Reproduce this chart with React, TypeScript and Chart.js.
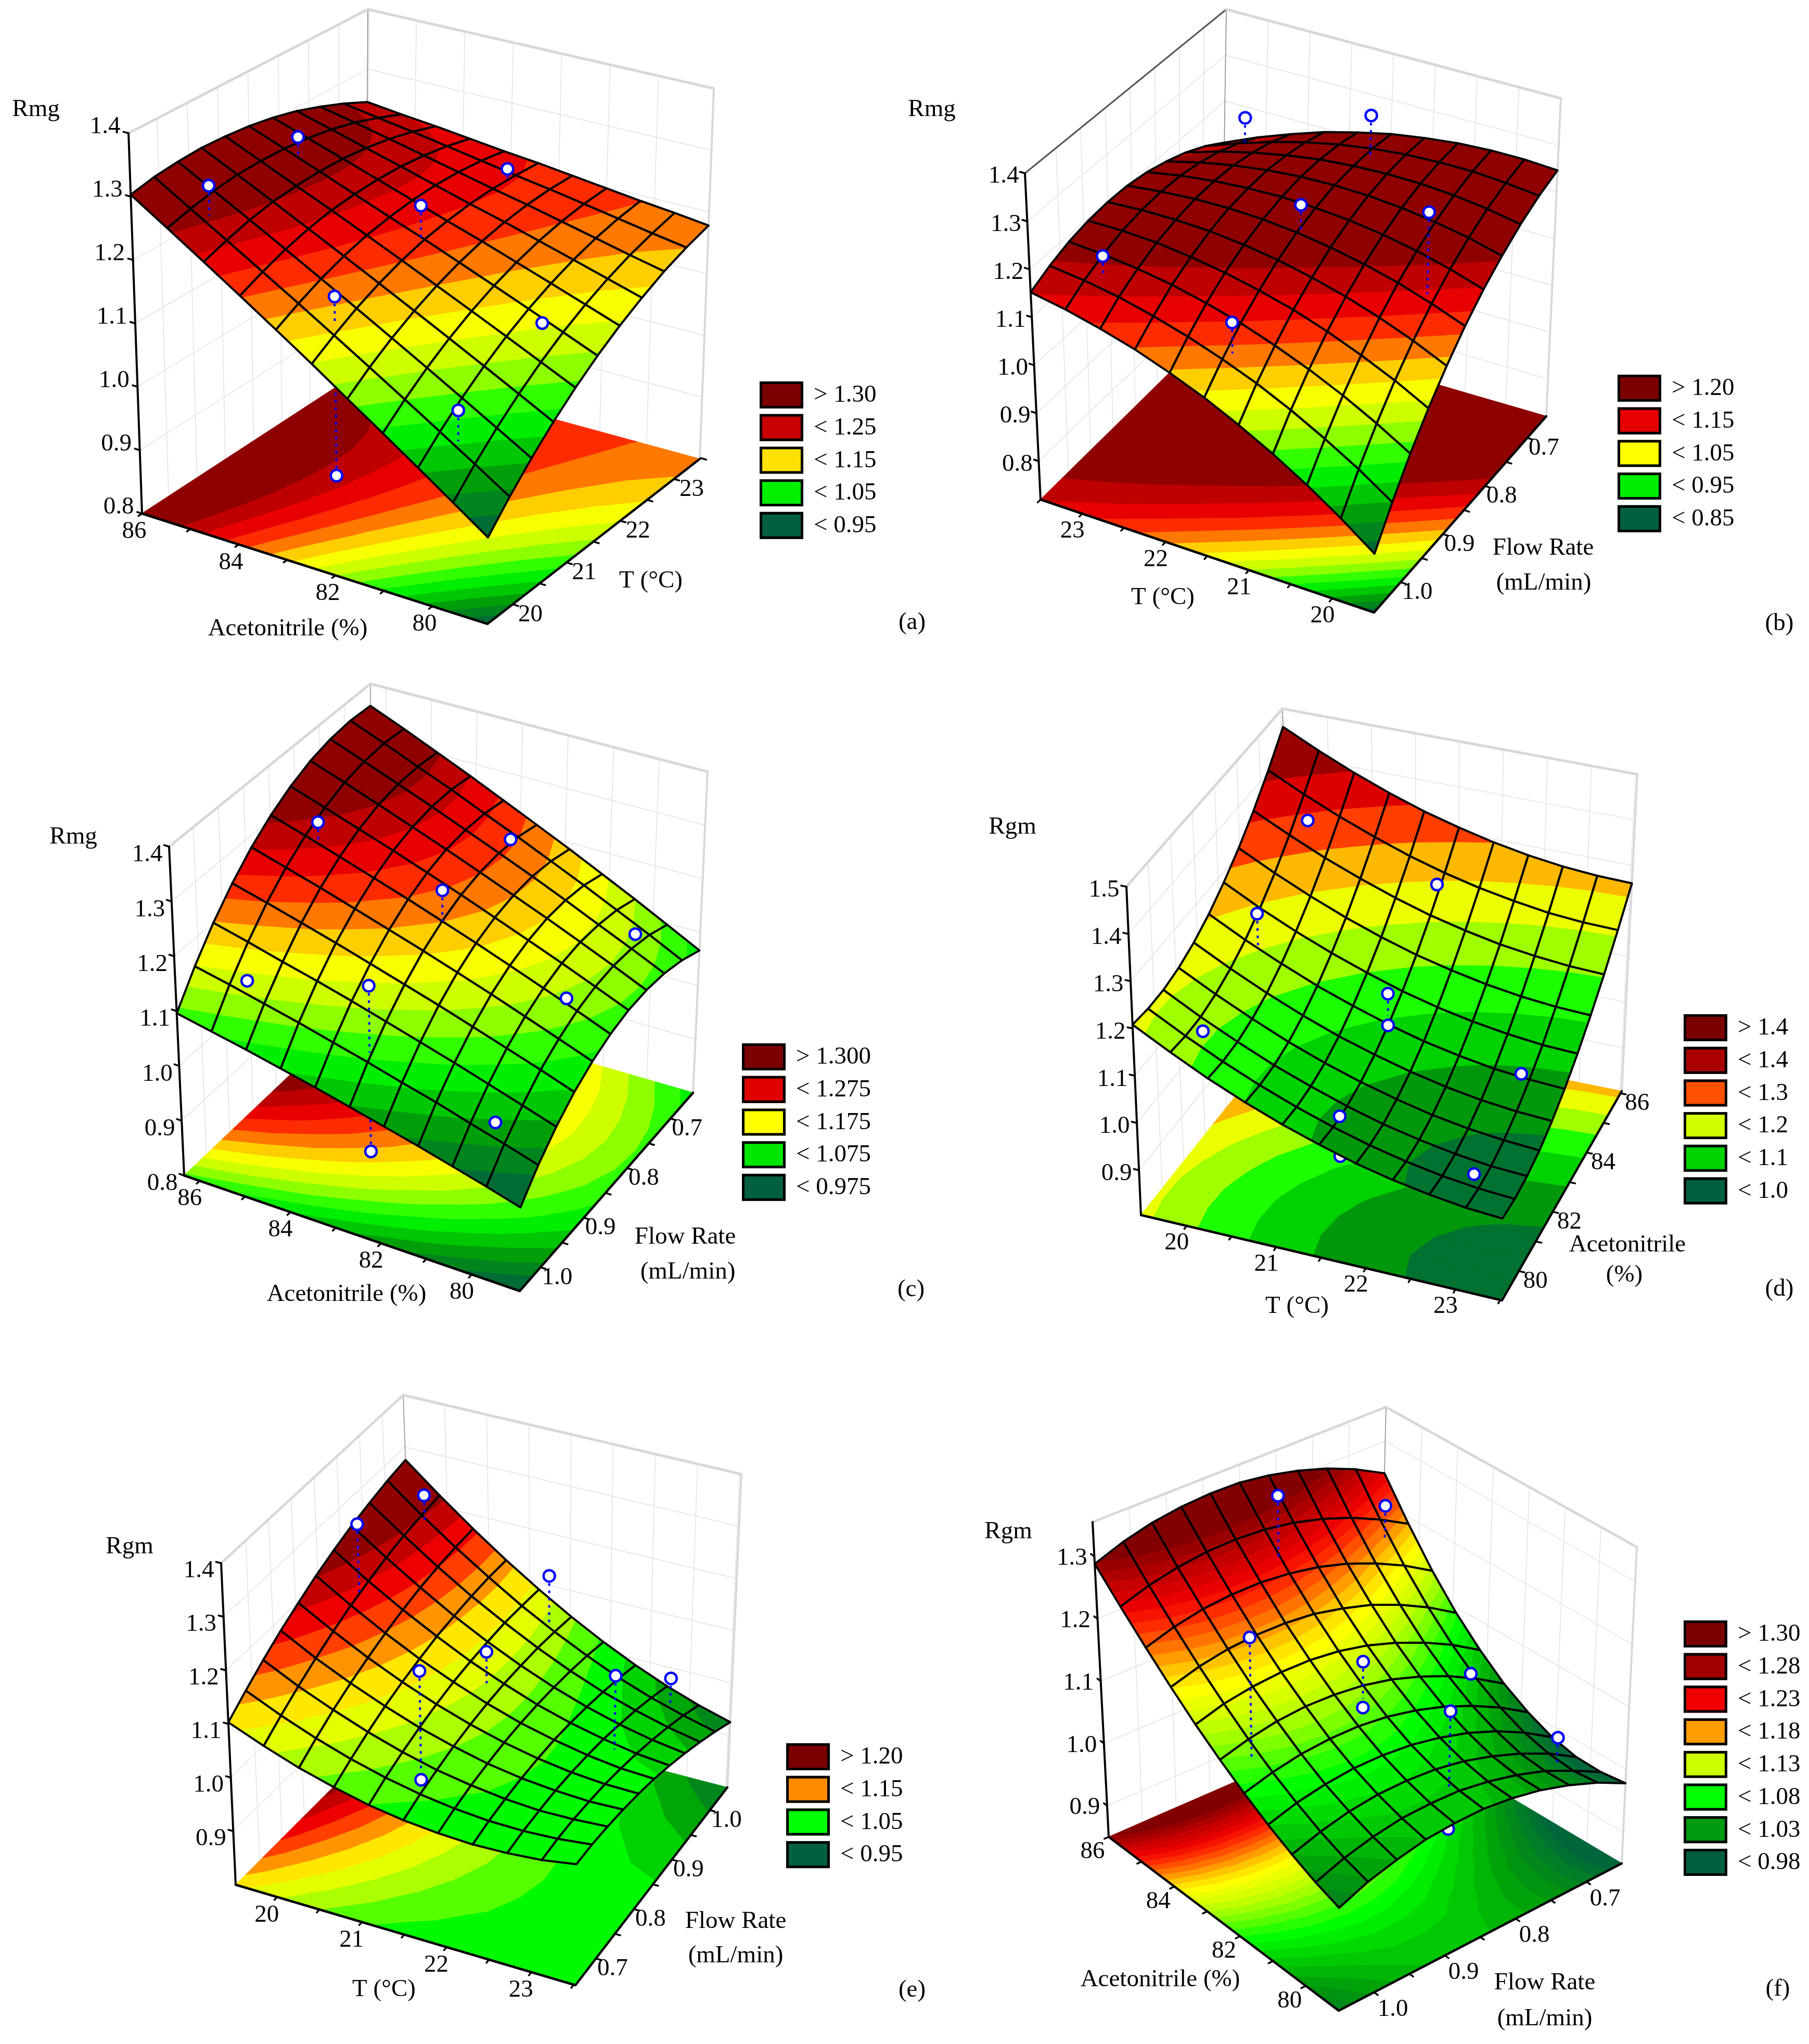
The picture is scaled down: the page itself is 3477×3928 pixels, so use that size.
import React, { useEffect, useRef } from "react";
import { Chart, registerables } from "chart.js";

Chart.register(...registerables);

// ---------- values ----------
// Response grids: row = first floor axis (left corner to near corner), column = second axis (near corner to right corner)
const aZ = [
  [1.303,1.311,1.315,1.317,1.315,1.311,1.304,1.294,1.280,1.264,1.245],
  [1.266,1.276,1.284,1.289,1.290,1.289,1.285,1.278,1.268,1.254,1.238],
  [1.229,1.242,1.253,1.261,1.265,1.267,1.266,1.262,1.255,1.245,1.232],
  [1.192,1.208,1.222,1.233,1.241,1.245,1.247,1.246,1.242,1.235,1.225],
  [1.155,1.174,1.191,1.205,1.216,1.223,1.228,1.230,1.229,1.225,1.218],
  [1.118,1.140,1.160,1.177,1.191,1.202,1.209,1.214,1.216,1.215,1.212],
  [1.080,1.106,1.129,1.149,1.166,1.180,1.191,1.199,1.204,1.206,1.205],
  [1.043,1.072,1.098,1.121,1.141,1.158,1.172,1.183,1.191,1.196,1.198],
  [1.006,1.038,1.067,1.093,1.116,1.136,1.153,1.167,1.178,1.186,1.191],
  [0.969,1.004,1.036,1.065,1.091,1.114,1.134,1.151,1.165,1.176,1.185],
  [0.932,0.970,1.005,1.037,1.066,1.092,1.115,1.135,1.153,1.167,1.178],
];
const bZ = [
  [1.152,1.172,1.187,1.196,1.200,1.199,1.192,1.179,1.162,1.139,1.110],
  [1.138,1.163,1.182,1.196,1.204,1.207,1.205,1.197,1.184,1.165,1.141],
  [1.120,1.150,1.173,1.192,1.204,1.212,1.214,1.211,1.202,1.188,1.168],
  [1.099,1.132,1.161,1.183,1.201,1.213,1.219,1.221,1.216,1.207,1.192],
  [1.073,1.111,1.144,1.171,1.193,1.210,1.221,1.227,1.227,1.222,1.211],
  [1.044,1.086,1.124,1.155,1.182,1.203,1.218,1.229,1.233,1.233,1.227],
  [1.010,1.058,1.099,1.136,1.166,1.192,1.212,1.227,1.236,1.240,1.238],
  [0.973,1.025,1.071,1.112,1.147,1.177,1.202,1.221,1.235,1.243,1.246],
  [0.932,0.988,1.039,1.084,1.124,1.159,1.188,1.211,1.230,1.243,1.250],
  [0.887,0.948,1.003,1.053,1.097,1.136,1.170,1.198,1.221,1.238,1.250],
  [0.838,0.903,0.963,1.017,1.066,1.110,1.148,1.180,1.208,1.230,1.246],
];
const cZ = [
  [1.096,1.151,1.200,1.242,1.278,1.307,1.330,1.347,1.357,1.361,1.358],
  [1.083,1.137,1.184,1.225,1.259,1.287,1.308,1.324,1.332,1.335,1.331],
  [1.070,1.122,1.167,1.207,1.240,1.266,1.286,1.300,1.307,1.308,1.303],
  [1.056,1.107,1.151,1.189,1.220,1.245,1.264,1.276,1.282,1.282,1.275],
  [1.042,1.091,1.134,1.170,1.200,1.224,1.241,1.252,1.256,1.254,1.246],
  [1.027,1.075,1.116,1.151,1.180,1.202,1.218,1.227,1.230,1.227,1.217],
  [1.012,1.058,1.098,1.132,1.159,1.180,1.194,1.202,1.204,1.199,1.188],
  [0.997,1.042,1.080,1.112,1.138,1.157,1.170,1.177,1.177,1.171,1.158],
  [0.981,1.024,1.061,1.092,1.116,1.134,1.146,1.151,1.149,1.142,1.128],
  [0.965,1.007,1.042,1.072,1.094,1.111,1.121,1.125,1.122,1.113,1.097],
  [0.948,0.989,1.023,1.051,1.072,1.087,1.096,1.098,1.094,1.083,1.066],
];
const dZ = [
  [1.208,1.203,1.204,1.212,1.227,1.249,1.278,1.313,1.355,1.404,1.460],
  [1.167,1.162,1.163,1.172,1.187,1.209,1.238,1.274,1.317,1.366,1.422],
  [1.129,1.125,1.127,1.136,1.151,1.174,1.203,1.239,1.282,1.332,1.388],
  [1.096,1.092,1.094,1.103,1.119,1.142,1.172,1.208,1.252,1.302,1.358],
  [1.067,1.063,1.066,1.075,1.091,1.115,1.145,1.181,1.225,1.275,1.332],
  [1.042,1.038,1.041,1.051,1.068,1.091,1.121,1.158,1.202,1.253,1.311],
  [1.020,1.017,1.020,1.031,1.048,1.071,1.102,1.140,1.184,1.235,1.293],
  [1.003,1.000,1.004,1.014,1.032,1.056,1.087,1.125,1.169,1.221,1.279],
  [0.990,0.987,0.991,1.002,1.020,1.044,1.076,1.114,1.159,1.210,1.269],
  [0.980,0.978,0.982,0.994,1.012,1.037,1.068,1.107,1.152,1.204,1.263],
  [0.975,0.973,0.978,0.989,1.008,1.033,1.065,1.104,1.149,1.202,1.261],
];
const eZ = [
  [1.103,1.130,1.155,1.178,1.198,1.217,1.233,1.247,1.258,1.268,1.275],
  [1.077,1.101,1.123,1.143,1.161,1.177,1.190,1.202,1.211,1.217,1.222],
  [1.054,1.076,1.096,1.113,1.128,1.141,1.152,1.161,1.167,1.171,1.173],
  [1.036,1.055,1.072,1.087,1.099,1.109,1.118,1.123,1.127,1.129,1.128],
  [1.021,1.038,1.052,1.064,1.074,1.082,1.087,1.090,1.092,1.090,1.087],
  [1.011,1.025,1.036,1.046,1.053,1.058,1.061,1.061,1.060,1.056,1.050],
  [1.005,1.016,1.025,1.031,1.036,1.038,1.038,1.036,1.032,1.026,1.017],
  [1.002,1.011,1.017,1.021,1.023,1.023,1.020,1.015,1.008,0.999,0.988],
  [1.004,1.010,1.013,1.015,1.014,1.011,1.006,0.998,0.989,0.977,0.963],
  [1.009,1.013,1.014,1.012,1.009,1.003,0.995,0.985,0.973,0.959,0.942],
  [1.019,1.020,1.018,1.014,1.008,1.000,0.989,0.976,0.961,0.944,0.925],
];
const fZ = [
  [1.288,1.305,1.317,1.324,1.327,1.326,1.319,1.308,1.293,1.273,1.248],
  [1.246,1.261,1.271,1.277,1.278,1.275,1.267,1.254,1.237,1.215,1.189],
  [1.207,1.221,1.230,1.234,1.234,1.229,1.220,1.206,1.187,1.164,1.136],
  [1.171,1.184,1.192,1.195,1.194,1.189,1.178,1.164,1.144,1.120,1.091],
  [1.138,1.151,1.158,1.161,1.160,1.154,1.143,1.127,1.107,1.083,1.054],
  [1.109,1.121,1.129,1.132,1.130,1.124,1.113,1.097,1.077,1.052,1.023],
  [1.083,1.095,1.103,1.106,1.105,1.099,1.088,1.073,1.053,1.029,1.000],
  [1.060,1.073,1.081,1.085,1.084,1.079,1.069,1.055,1.036,1.012,0.983],
  [1.040,1.054,1.064,1.069,1.069,1.065,1.056,1.042,1.024,1.002,0.974],
  [1.023,1.039,1.050,1.057,1.058,1.056,1.048,1.036,1.020,0.998,0.973],
  [1.010,1.028,1.040,1.049,1.052,1.052,1.046,1.036,1.021,1.002,0.978],
];

// Experimental points: first axis, second axis, response, foot of the dotted line (null = none), hidden under the surface
const aPtX = [85, 85, 82.5, 82.5, 82.5, 80, 80, 82.5];
const aPtY = [20, 21.5, 21.5, 23, 20, 21.5, 20, 20];
const aPtZ = [1.315, 1.314, 1.255, 1.229, 1.195, 1.12, 1.073, 0.915];
const aPtEnd = [1.267, 1.281, 1.202, 1.214, 1.151, null, 1.025, 1.148];
const aPtUnder = [0, 0, 0, 0, 0, 0, 0, 1];

const bPtX = [23, 21.5, 21.5, 20, 23, 21.5];
const bPtY = [1.0, 1.0, 0.85, 0.85, 0.7, 0.7];
const bPtZ = [1.2, 1.142, 1.253, 1.313, 1.229, 1.308];
const bPtEnd = [1.159, 1.078, 1.201, 1.142, 1.17, 1.223];
const bPtUnder = [0, 0, 0, 0, 0, 0];

const cPtX = [85.3, 85.3, 82.8, 82.8, 82.8, 82.8, 79.8, 79.8, 79.8];
const cPtY = [1.0, 0.85, 0.688, 0.832, 0.988, 0.988, 0.708, 0.86, 1.016];
const cPtZ = [1.146, 1.321, 1.219, 1.242, 1.193, 0.893, 1.129, 1.141, 1.049];
const cPtEnd = [null, 1.285, null, 1.185, 1.072, 1.072, null, null, null];
const cPtUnder = [0, 0, 0, 0, 0, 1, 0, 0, 0];

const dPtX = [20, 20, 20, 21.5, 21.5, 21.5, 21.5, 21.5, 23, 23];
const dPtY = [80.07, 82.68, 85.08, 82.54, 82.54, 85, 80.07, 80.07, 80.05, 82.65];
const dPtZ = [1.157, 1.262, 1.329, 1.157, 1.089, 1.249, 1.04, 0.956, 0.983, 1.038];
const dPtEnd = [null, 1.194, null, 1.109, null, null, null, null, null, null];
const dPtUnder = [0, 0, 0, 0, 0, 0, 0, 1, 0, 0];

const ePtX = [20, 20, 21.5, 21.5, 21.5, 21.5, 23, 23];
const ePtY = [0.849, 0.996, 0.692, 0.692, 0.848, 0.996, 0.854, 0.996];
const ePtZ = [1.332, 1.267, 1.247, 1.046, 1.153, 1.171, 1.164, 1.034];
const ePtEnd = [1.197, 1.218, 1.062, null, 1.094, 1.076, 1.026, 0.984];
const ePtUnder = [0, 0, 0, 0, 0, 0, 0, 0];

const fPtX = [85, 85, 82.5, 82.5, 82.5, 82.5, 80, 80, 80];
const fPtY = [0.846, 0.698, 1.006, 0.85, 0.85, 0.698, 0.85, 0.85, 0.698];
const fPtZ = [1.338, 1.251, 1.28, 1.162, 1.089, 1.064, 1.171, 0.985, 1.045];
const fPtEnd = [1.239, 1.194, 1.085, 1.103, null, null, 1.045, 1.045, 1.005];
const fPtUnder = [0, 0, 0, 0, 0, 0, 0, 1, 0];

// Axis ticks
const acMinor = [86, 85, 84, 83, 82, 81, 80];
const acLabels = [86, 84, 82, 80];
const tMinor = [23.5, 23, 22.5, 22, 21.5, 21, 20.5, 20];
const tLabels = [20, 21, 22, 23];
const flowMinor = [1.0, 0.95, 0.9, 0.85, 0.8, 0.75, 0.7];
const flowLabels = [1.0, 0.9, 0.8, 0.7];
const zTicks14 = [0.8, 0.9, 1.0, 1.1, 1.2, 1.3, 1.4];
const zTicks15 = [0.9, 1.0, 1.1, 1.2, 1.3, 1.4, 1.5];
const zTicksE = [0.9, 1.0, 1.1, 1.2, 1.3, 1.4];
const zTicksF = [0.9, 1.0, 1.1, 1.2, 1.3];

// Legends
const aLegend = ["> 1.30", "< 1.25", "< 1.15", "< 1.05", "< 0.95"];
const bLegend = ["> 1.20", "< 1.15", "< 1.05", "< 0.95", "< 0.85"];
const cLegend = ["> 1.300", "< 1.275", "< 1.175", "< 1.075", "< 0.975"];
const dLegend = ["> 1.4", "< 1.4", "< 1.3", "< 1.2", "< 1.1", "< 1.0"];
const eLegend = ["> 1.20", "< 1.15", "< 1.05", "< 0.95"];
const fLegend = ["> 1.30", "< 1.28", "< 1.23", "< 1.18", "< 1.13", "< 1.08", "< 1.03", "< 0.98"];

// ---------- styles and layout ----------
const FONT = '"Liberation Serif", serif';
const KNOTS: [number, number, number, number][] = [
  [0, 0, 96, 64], [0.16, 0, 155, 10], [0.26, 0, 215, 0], [0.33, 0, 255, 0], [0.44, 150, 255, 0],
  [0.5, 205, 255, 0], [0.58, 255, 255, 0], [0.63, 255, 210, 0], [0.7, 255, 120, 0], [0.76, 255, 50, 0],
  [0.82, 240, 0, 0], [0.9, 190, 0, 0], [1, 120, 0, 0],
];
type XY = [number, number];
const panels: any[] = [
  {
    rect: [0, 0, 1790, 1290], z: aZ, zRange: [0.8, 1.4], zTicks: zTicks14,
    corners: { L: [273, 987], N: [937, 1199], R: [1345, 882], B: [703, 707], Lt: [247, 256], Nt: [941, 444], Rt: [1372, 170], Bt: [707, 18] },
    xr: [86, 78.86], yr: [19.53, 23.48], xMinor: acMinor, xLabels: acLabels, yMinor: tMinor, yLabels: tLabels, xFmt: 0, yFmt: 0,
    zOff: [-45, -12], uOff: [-15, 35], vOff: [34, 20], color: [0.93, 1.285, 15],
    pts: [aPtX, aPtY, aPtZ, aPtEnd, aPtUnder],
    legend: aLegend, legendColors: ["#7b0000", "#c80000", "#ffe000", "#00f000", "#006040"], legendAt: [1460, 733],
    texts: [["Rmg", 69, 211], ["Acetonitrile (%)", 553, 1209], ["T (°C)", 1251, 1117], ["(a)", 1753, 1197]],
  },
  {
    rect: [1700, 0, 1777, 1290], z: bZ, zRange: [0.72, 1.4], zTicks: zTicks14, topLeft: "#555555",
    corners: { L: [2000, 960], N: [2641, 1177], R: [2972, 800], B: [2348, 618], Lt: [1970, 333], Nt: [2646, 526], Rt: [3000, 189], Bt: [2357, 18] },
    xr: [23.5, 19.5], yr: [1.063, 0.655], xMinor: tMinor, xLabels: tLabels, yMinor: flowMinor, yLabels: flowLabels, xFmt: 0, yFmt: 1,
    zOff: [-41, 6], uOff: [-19, 34], vOff: [32, 20], color: [0.83, 1.2, 15],
    pts: [bPtX, bPtY, bPtZ, bPtEnd, bPtUnder],
    legend: bLegend, legendColors: ["#7b0000", "#e60000", "#ffff00", "#00ee00", "#006040"], legendAt: [3109, 720],
    texts: [["Rmg", 1791, 211], ["T (°C)", 2235, 1149], ["Flow Rate", 2966, 1054], ["(mL/min)", 2967, 1121], ["(b)", 3420, 1199]],
  },
  {
    rect: [0, 1290, 1790, 1300], z: cZ, zRange: [0.8, 1.4], zTicks: zTicks14,
    corners: { L: [354, 2259], N: [999, 2481], R: [1332, 2100], B: [711, 1920], Lt: [325, 1627], Nt: [1004, 1830], Rt: [1360, 1483], Bt: [712, 1314] },
    xr: [86.34, 78.94], yr: [1.048, 0.648], xMinor: acMinor, xLabels: acLabels, yMinor: flowMinor, yLabels: flowLabels, xFmt: 0, yFmt: 1,
    zOff: [-42, 16], uOff: [-19, 34], vOff: [32, 20], color: [0.955, 1.325, 15],
    pts: [cPtX, cPtY, cPtZ, cPtEnd, cPtUnder],
    legend: cLegend, legendColors: ["#7b0000", "#e00000", "#ffff00", "#00e600", "#006040"], legendAt: [1426, 2005],
    texts: [["Rmg", 141, 1609], ["Acetonitrile (%)", 666, 2488], ["Flow Rate", 1317, 2378], ["(mL/min)", 1322, 2445], ["(c)", 1751, 2479]],
  },
  {
    rect: [1700, 1290, 1777, 1340], z: dZ, zRange: [0.805, 1.5], zTicks: zTicks15,
    corners: { L: [2193, 2335], N: [2887, 2499], R: [3117, 2097], B: [2484, 1969], Lt: [2165, 1704], Nt: [2890, 1856], Rt: [3147, 1488], Bt: [2465, 1362] },
    xr: [19.49, 23.52], yr: [79.01, 86.07], xMinor: tMinor, xLabels: tLabels, yMinor: acMinor, yLabels: acLabels, xFmt: 0, yFmt: 0,
    zOff: [-43, 7], uOff: [-19, 33], vOff: [32, 20], color: [0.95, 1.44, 10],
    pts: [dPtX, dPtY, dPtZ, dPtEnd, dPtUnder],
    legend: dLegend, legendColors: ["#7b0000", "#aa0000", "#ff5000", "#d0ff00", "#00d200", "#006040"], legendAt: [3236, 1949],
    texts: [["Rgm", 1946, 1590], ["T (°C)", 2493, 2511], ["Acetonitrile", 3128, 2393], ["(%)", 3122, 2451], ["(d)", 3420, 2478]],
  },
  {
    rect: [0, 2640, 1790, 1288], z: eZ, zRange: [0.8, 1.4], zTicks: zTicksE,
    corners: { L: [453, 3622], N: [1106, 3815], R: [1398, 3435], B: [796, 3279], Lt: [425, 3004], Nt: [1111, 3178], Rt: [1425, 2833], Bt: [775, 2681] },
    xr: [19.51, 23.52], yr: [0.646, 1.046], xMinor: tMinor, xLabels: tLabels, yMinor: flowMinor, yLabels: flowLabels, xFmt: 0, yFmt: 1,
    zOff: [-43, 15], uOff: [-20, 35], vOff: [32, 20], color: [0.9, 1.24, 14],
    pts: [ePtX, ePtY, ePtZ, ePtEnd, ePtUnder],
    legend: eLegend, legendColors: ["#7b0000", "#ff8c00", "#00ff00", "#006040"], legendAt: [1511, 3350],
    texts: [["Rgm", 249, 2973], ["T (°C)", 738, 3824], ["Flow Rate", 1414, 3693], ["(mL/min)", 1414, 3759], ["(e)", 1753, 3825]],
  },
  {
    rect: [1700, 2640, 1777, 1288], z: fZ, zRange: [0.85, 1.355], zTicks: zTicksF,
    corners: { L: [2131, 3530], N: [2573, 3864], R: [3117, 3581], B: [2650, 3304], Lt: [2100, 2925], Nt: [2576, 3240], Rt: [3146, 2973], Bt: [2664, 2704] },
    xr: [86, 79], yr: [1.05, 0.65], xMinor: acMinor, xLabels: acLabels, yMinor: flowMinor, yLabels: flowLabels, xFmt: 0, yFmt: 1,
    zOff: [-43, 4], uOff: [-31, 29], vOff: [36, 33], color: [0.98, 1.3, 32],
    pts: [fPtX, fPtY, fPtZ, fPtEnd, fPtUnder],
    legend: fLegend, legendColors: ["#7b0000", "#a00000", "#f00000", "#ff9c00", "#ccff00", "#00ff00", "#009a10", "#006040"], legendAt: [3236, 3114],
    texts: [["Rgm", 1938, 2944], ["Acetonitrile (%)", 2230, 3805], ["Flow Rate", 2969, 3811], ["(mL/min)", 2969, 3880], ["(f)", 3417, 3823]],
  },
];

// ---------- geometry helpers ----------
function colormap(t: number) {
  const c = Math.max(0, Math.min(1, t));
  for (let i = 1; i < KNOTS.length; i++) {
    if (c <= KNOTS[i][0]) {
      const a = KNOTS[i - 1], b = KNOTS[i];
      const f = (c - a[0]) / (b[0] - a[0]);
      const m = (k: number) => Math.round(a[k] + (b[k] - a[k]) * f);
      return `rgb(${m(1)},${m(2)},${m(3)})`;
    }
  }
  return "rgb(120,0,0)";
}
function projector(p: any) {
  const c = p.corners;
  const bil = (u: number, v: number, a: XY, b: XY, r: XY, d: XY, k: number) =>
    a[k] * (1 - u) * (1 - v) + b[k] * u * (1 - v) + r[k] * u * v + d[k] * (1 - u) * v;
  return (u: number, v: number, w: number) => {
    const fx = bil(u, v, c.L, c.N, c.R, c.B, 0), fy = bil(u, v, c.L, c.N, c.R, c.B, 1);
    const tx = bil(u, v, c.Lt, c.Nt, c.Rt, c.Bt, 0), ty = bil(u, v, c.Lt, c.Nt, c.Rt, c.Bt, 1);
    return { x: fx + (tx - fx) * w, y: fy + (ty - fy) * w };
  };
}
function clip(poly: number[][], level: number, keepAbove: boolean) {
  const out: number[][] = [];
  for (let i = 0; i < poly.length; i++) {
    const a = poly[i], b = poly[(i + 1) % poly.length];
    const ina = keepAbove ? a[2] >= level : a[2] <= level;
    const inb = keepAbove ? b[2] >= level : b[2] <= level;
    if (ina) out.push(a);
    if (ina !== inb) {
      const f = (level - a[2]) / (b[2] - a[2]);
      out.push([a[0] + (b[0] - a[0]) * f, a[1] + (b[1] - a[1]) * f, level]);
    }
  }
  return out;
}
function cellBands(p: any, poly: number[][]) {
  const [low, high, n] = p.color;
  const step = (high - low) / n;
  const res: any[] = [];
  const zs = poly.map((q) => q[2]);
  const first = Math.max(0, Math.min(n - 1, Math.floor((Math.min(...zs) - low) / step)));
  const last = Math.max(0, Math.min(n - 1, Math.floor((Math.max(...zs) - low) / step)));
  for (let k = first; k <= last; k++) {
    let g = poly;
    if (k > 0) g = clip(g, low + k * step, true);
    if (g.length && k < n - 1) g = clip(g, low + (k + 1) * step, false);
    if (g.length >= 3) res.push({ poly: g, color: colormap((k + 0.5) / n) });
  }
  return res;
}
const lineSet = (pts: any[], color: string, width: number, extra: any = {}) => ({
  type: "scatter", data: pts, showLine: true, borderColor: color, borderWidth: width, pointRadius: 0,
  fill: false, tension: 0, clip: false, borderJoinStyle: "round", borderCapStyle: "round", ...extra,
});
const fillSet = (poly: number[][], color: string) => {
  const pts = poly.map((q) => ({ x: q[0], y: q[1] }));
  pts.push(pts[0]);
  return lineSet(pts, color, 1.5, { fill: "shape", backgroundColor: color });
};

function buildDatasets(p: any) {
  const P = projector(p);
  const [zMin, zMax] = p.zRange;
  const W = (z: number) => (z - zMin) / (zMax - zMin);
  const U = (x: number) => (x - p.xr[0]) / (p.xr[1] - p.xr[0]);
  const V = (y: number) => (y - p.yr[0]) / (p.yr[1] - p.yr[0]);
  const out: any[] = [];
  const rows = p.z.length - 1, cols = p.z[0].length - 1;

  // walls
  const grid = "#e2e2e2";
  for (const y of p.yMinor) out.push(lineSet([P(0, V(y), 0), P(0, V(y), 1)], grid, 1.5));
  for (const x of p.xMinor) out.push(lineSet([P(U(x), 1, 0), P(U(x), 1, 1)], grid, 1.5));
  for (const t of p.zTicks) out.push(lineSet([P(0, 0, W(t)), P(0, 1, W(t)), P(1, 1, W(t))], grid, 1.5));
  out.push(lineSet([P(0, 1, 0), P(0, 1, 1)], "#8a8a8a", 1.5));
  out.push(lineSet([P(1, 1, 0), P(1, 1, 1)], "#d8d8d8", 4));
  out.push(lineSet([P(0, 0, 1), P(0, 1, 1)], p.topLeft || "#d8d8d8", p.topLeft ? 3 : 5));
  out.push(lineSet([P(0, 1, 1), P(1, 1, 1)], "#d8d8d8", 5));

  // floor contour
  for (let i = 0; i < rows; i++) {
    for (let j = 0; j < cols; j++) {
      const vs = [[i, j], [i + 1, j], [i + 1, j + 1], [i, j + 1]].map(([a, b]) => {
        const q = P(a / rows, b / cols, 0);
        return [q.x, q.y, p.z[a][b]];
      });
      for (const b of cellBands(p, vs)) out.push(fillSet(b.poly, b.color));
    }
  }

  // axes and ticks
  out.push(lineSet([P(0, 0, 0), P(0, 0, 1)], "#000", 4));
  out.push(lineSet([P(0, 0, 0), P(1, 0, 0), P(1, 1, 0)], "#000", 4.5));
  for (const x of p.xMinor) out.push(lineSet([P(U(x), 0, 0), P(U(x), -0.016, 0)], "#000", 3.5));
  for (const y of p.yMinor) out.push(lineSet([P(1, V(y), 0), P(1.016, V(y), 0)], "#000", 3.5));
  for (const t of p.zTicks) out.push(lineSet([P(0, 0, W(t)), P(-0.014, 0, W(t))], "#000", 3.5));

  // experimental points
  const [px, py, pz, pe, pu] = p.pts;
  const marker = (k: number) => {
    const u = U(px[k]), v = V(py[k]);
    const top = P(u, v, W(pz[k]));
    const data = pe[k] == null ? [top] : [top, P(u, v, W(pe[k]))];
    return lineSet(data, "#0000ff", 4, {
      showLine: pe[k] != null, borderDash: [5, 9], borderCapStyle: "butt",
      pointRadius: pe[k] == null ? 11 : [11, 0], pointBorderWidth: 4.5,
      pointBorderColor: "#0000ff", pointBackgroundColor: "#ffffff",
    });
  };
  for (let k = 0; k < px.length; k++) if (pu[k]) out.push(marker(k));

  // surface, back cells first
  for (let i = 0; i < rows; i++) {
    for (let j = cols - 1; j >= 0; j--) {
      const corners = [[i, j], [i + 1, j], [i + 1, j + 1], [i, j + 1]];
      const vs = corners.map(([a, b]) => {
        const q = P(a / rows, b / cols, W(p.z[a][b]));
        return [q.x, q.y, p.z[a][b]];
      });
      for (const b of cellBands(p, vs)) out.push(fillSet(b.poly, b.color));
      const outline = vs.map((q) => ({ x: q[0], y: q[1] }));
      outline.push(outline[0]);
      out.push(lineSet(outline, "#000", 4));
    }
  }
  for (let k = 0; k < px.length; k++) if (!pu[k]) out.push(marker(k));

  // the library paints the first dataset last
  return out.reverse();
}

function labelsPlugin(p: any) {
  const P = projector(p);
  const [zMin, zMax] = p.zRange;
  const W = (z: number) => (z - zMin) / (zMax - zMin);
  const U = (x: number) => (x - p.xr[0]) / (p.xr[1] - p.xr[0]);
  const V = (y: number) => (y - p.yr[0]) / (p.yr[1] - p.yr[0]);
  return {
    id: "panelLabels",
    afterDraw(chart: any) {
      const { ctx, scales } = chart;
      const sx = (x: number) => scales.x.getPixelForValue(x);
      const sy = (y: number) => scales.y.getPixelForValue(y);
      ctx.save();
      ctx.fillStyle = "#000";
      ctx.textBaseline = "middle";
      ctx.textAlign = "center";
      ctx.font = `47px ${FONT}`;
      const put = (s: string, q: { x: number; y: number }, o: number[]) => ctx.fillText(s, sx(q.x + o[0]), sy(q.y + o[1]));
      for (const t of p.zTicks) put(t.toFixed(1), P(0, 0, W(t)), p.zOff);
      for (const x of p.xLabels) put(x.toFixed(p.xFmt), P(U(x), 0, 0), p.uOff);
      for (const y of p.yLabels) put(y.toFixed(p.yFmt), P(1, V(y), 0), p.vOff);
      for (const [s, x, y] of p.texts) ctx.fillText(s, sx(x), sy(y));
      const [lx, ly] = p.legendAt;
      const rowH = 62.7;
      ctx.textAlign = "left";
      p.legend.forEach((s: string, k: number) => {
        const top = ly + k * rowH;
        ctx.fillStyle = p.legendColors[k];
        ctx.fillRect(sx(lx), sy(top), 84, 52);
        ctx.lineWidth = 5;
        ctx.strokeStyle = "#000";
        ctx.strokeRect(sx(lx) + 2.5, sy(top) + 2.5, 79, 47);
        ctx.fillStyle = "#000";
        ctx.fillText(s, sx(lx + 104), sy(top + 27));
      });
      ctx.restore();
    },
  };
}

function Panel({ p }: { p: any }) {
  const ref = useRef<HTMLCanvasElement>(null);
  useEffect(() => {
    const [x, y, w, h] = p.rect;
    const chart = new Chart(ref.current as any, {
      type: "scatter",
      data: { datasets: buildDatasets(p) },
      plugins: [labelsPlugin(p)],
      options: {
        animation: false,
        responsive: false,
        devicePixelRatio: 1,
        parsing: false,
        events: [],
        layout: { padding: 0, autoPadding: false },
        plugins: { legend: { display: false }, tooltip: { enabled: false } },
        scales: {
          x: { type: "linear", display: false, min: x, max: x + w },
          y: { type: "linear", display: false, min: y, max: y + h, reverse: true },
        },
      },
    } as any);
    return () => chart.destroy();
  }, [p]);
  const [x, y, w, h] = p.rect;
  return <canvas ref={ref} width={w} height={h} style={{ position: "absolute", left: x, top: y, width: w, height: h }} />;
}

export default function App() {
  return (
    <div style={{ position: "absolute", left: 0, top: 0, width: 3477, height: 3928, background: "#fff", overflow: "hidden" }}>
      {panels.map((p, i) => (
        <Panel key={i} p={p} />
      ))}
    </div>
  );
}
